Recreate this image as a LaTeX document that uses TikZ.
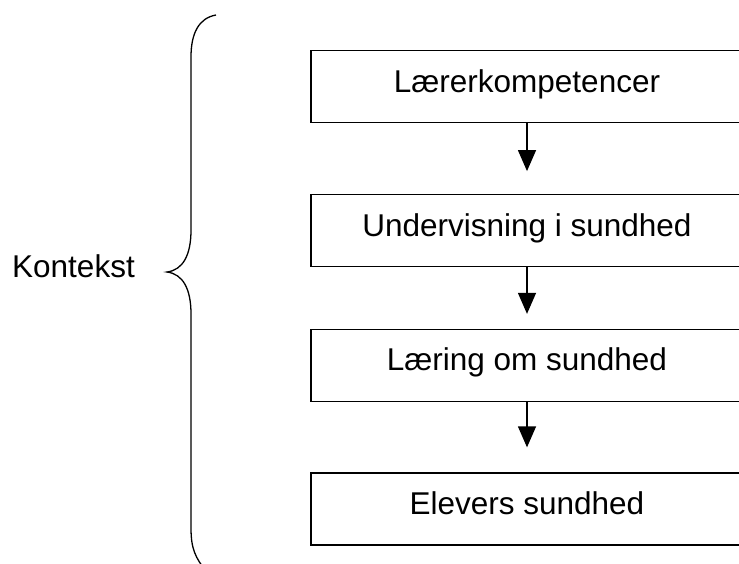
\documentclass[tikz,border=0pt]{standalone}
\usepackage{fontspec}
\setmainfont{Liberation Sans}
\usetikzlibrary{arrows.meta}
\begin{document}
\begin{tikzpicture}[x=1pt,y=-1pt,
  stepbox/.style={draw, line width=1.3pt, minimum width=432pt, minimum height=72pt,
    inner sep=0pt, text height=22pt, text depth=11.5pt,
    font=\fontsize{31.5}{38}\selectfont},
  flow/.style={-{Triangle[width=18pt,length=21pt]}, line width=1.3pt},
  label/.style={inner sep=0pt, font=\fontsize{31.5}{38}\selectfont}]
\useasboundingbox (0,0) rectangle (739,563);
\fill[white] (0,0) rectangle (739,563);
\node[stepbox] (b1) at (527,86.75) {Lærerkompetencer};
\node[stepbox] (b2) at (527,230.75) {Undervisning i sundhed};
\node[stepbox] (b3) at (527,365.5) {Læring om sundhed};
\node[stepbox] (b4) at (527,509) {Elevers sundhed};
\draw[flow, shorten >=23pt] (b1) -- (b2);
\draw[flow, shorten >=15pt] (b2) -- (b3);
\draw[flow, shorten >=25pt] (b3) -- (b4);
\node[label, anchor=base west] (ctx) at (12,277) {Kontekst};
\draw[line width=1.3pt] (216,15) .. controls (199,18) and (191,33) .. (191,57)
  -- (191,230) .. controls (191,255) and (183,270) .. (167,272)
  .. controls (183,274) and (191,289) .. (191,314)
  -- (191,528) .. controls (191,548) and (195,558) .. (207,572);
\end{tikzpicture}
\end{document}
